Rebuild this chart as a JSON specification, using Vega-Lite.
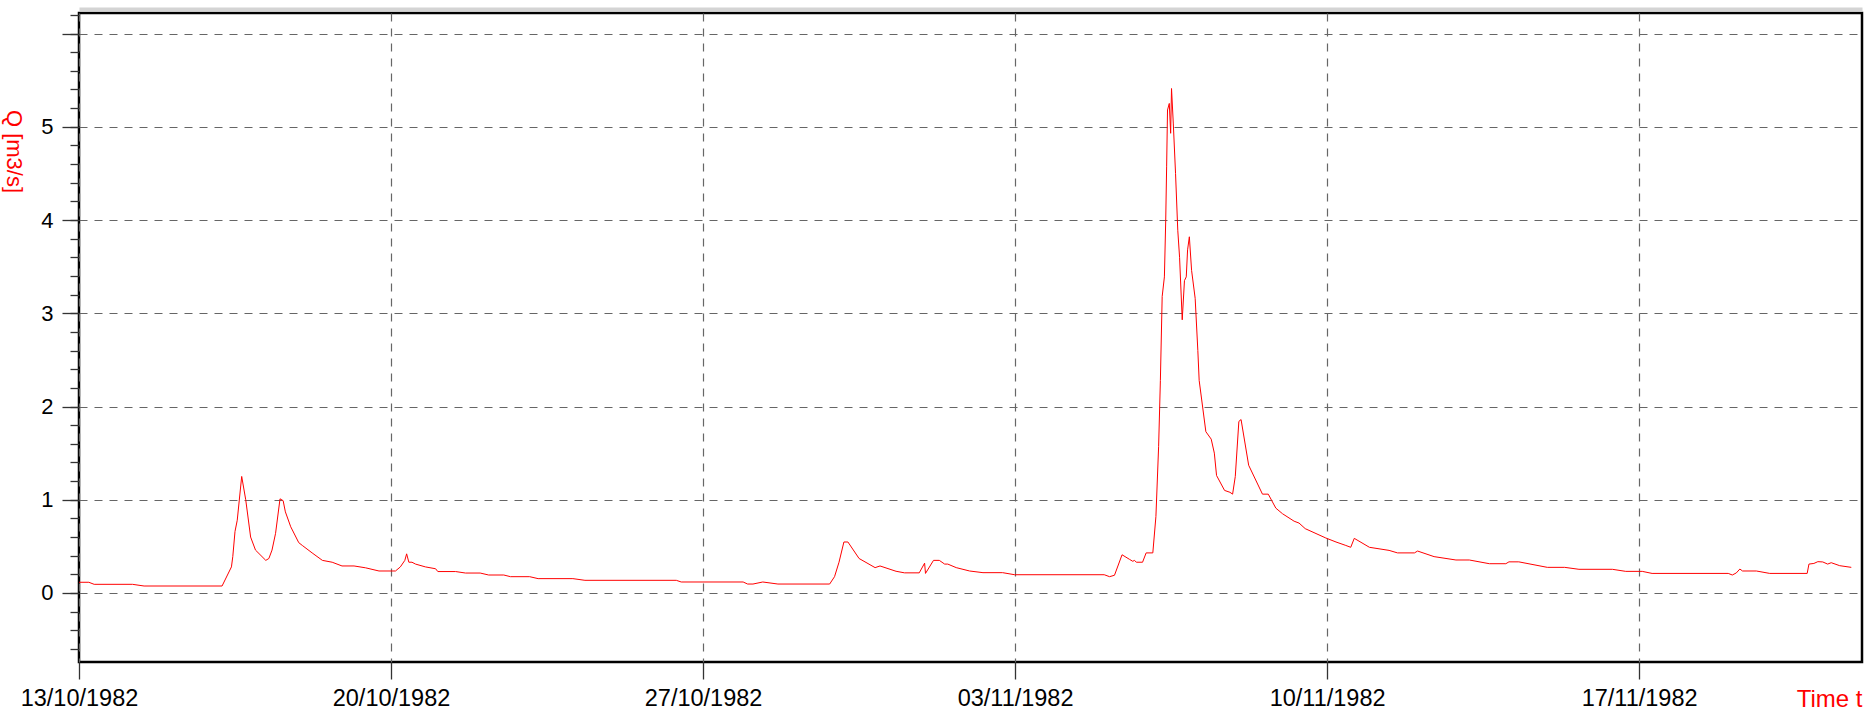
{
  "$schema": "https://vega.github.io/schema/vega-lite/v6.json",
  "width": 1783,
  "height": 649,
  "autosize": {"type": "none"},
  "padding": {"left": 79, "top": 13, "right": 3, "bottom": 50},
  "background": "white",
  "config": {
    "view": {"stroke": "#000000", "strokeWidth": 2.5},
    "font": "Liberation Sans"
  },
  "data": {
    "values": [
      {"t": "1982-10-13T00:00", "q": 0.115},
      {"t": "1982-10-13T05:17", "q": 0.115},
      {"t": "1982-10-13T08:10", "q": 0.093},
      {"t": "1982-10-14T04:48", "q": 0.093},
      {"t": "1982-10-14T11:02", "q": 0.075},
      {"t": "1982-10-16T05:02", "q": 0.075},
      {"t": "1982-10-16T10:05", "q": 0.28},
      {"t": "1982-10-16T10:48", "q": 0.39},
      {"t": "1982-10-16T12:00", "q": 0.66},
      {"t": "1982-10-16T13:12", "q": 0.78},
      {"t": "1982-10-16T15:36", "q": 1.25},
      {"t": "1982-10-16T17:46", "q": 1.0},
      {"t": "1982-10-16T20:24", "q": 0.6},
      {"t": "1982-10-16T23:02", "q": 0.46},
      {"t": "1982-10-17T04:34", "q": 0.35},
      {"t": "1982-10-17T06:14", "q": 0.37},
      {"t": "1982-10-17T07:55", "q": 0.46},
      {"t": "1982-10-17T09:50", "q": 0.64},
      {"t": "1982-10-17T12:14", "q": 1.01},
      {"t": "1982-10-17T13:55", "q": 0.99},
      {"t": "1982-10-17T15:07", "q": 0.87},
      {"t": "1982-10-17T18:00", "q": 0.71},
      {"t": "1982-10-17T22:19", "q": 0.54},
      {"t": "1982-10-18T00:14", "q": 0.51},
      {"t": "1982-10-18T05:31", "q": 0.43},
      {"t": "1982-10-18T11:02", "q": 0.35},
      {"t": "1982-10-18T16:19", "q": 0.33},
      {"t": "1982-10-18T21:36", "q": 0.29},
      {"t": "1982-10-19T04:05", "q": 0.29},
      {"t": "1982-10-19T10:19", "q": 0.27},
      {"t": "1982-10-19T17:31", "q": 0.236},
      {"t": "1982-10-20T02:24", "q": 0.236},
      {"t": "1982-10-20T05:02", "q": 0.28},
      {"t": "1982-10-20T07:26", "q": 0.35},
      {"t": "1982-10-20T08:24", "q": 0.42},
      {"t": "1982-10-20T09:36", "q": 0.33},
      {"t": "1982-10-20T11:17", "q": 0.33},
      {"t": "1982-10-20T13:12", "q": 0.31},
      {"t": "1982-10-20T18:29", "q": 0.28},
      {"t": "1982-10-21T00:00", "q": 0.26},
      {"t": "1982-10-21T01:12", "q": 0.23},
      {"t": "1982-10-21T10:48", "q": 0.23},
      {"t": "1982-10-21T16:05", "q": 0.214},
      {"t": "1982-10-22T00:00", "q": 0.214},
      {"t": "1982-10-22T04:34", "q": 0.193},
      {"t": "1982-10-22T12:43", "q": 0.193},
      {"t": "1982-10-22T16:19", "q": 0.175},
      {"t": "1982-10-23T02:38", "q": 0.175},
      {"t": "1982-10-23T07:12", "q": 0.154},
      {"t": "1982-10-24T01:55", "q": 0.154},
      {"t": "1982-10-24T08:24", "q": 0.136},
      {"t": "1982-10-26T09:36", "q": 0.136},
      {"t": "1982-10-26T12:14", "q": 0.118},
      {"t": "1982-10-27T21:36", "q": 0.118},
      {"t": "1982-10-28T00:00", "q": 0.096},
      {"t": "1982-10-28T02:53", "q": 0.096},
      {"t": "1982-10-28T08:10", "q": 0.118},
      {"t": "1982-10-28T16:19", "q": 0.096},
      {"t": "1982-10-29T20:10", "q": 0.096},
      {"t": "1982-10-29T22:48", "q": 0.175},
      {"t": "1982-10-30T01:12", "q": 0.33},
      {"t": "1982-10-30T03:50", "q": 0.547},
      {"t": "1982-10-30T06:00", "q": 0.547},
      {"t": "1982-10-30T12:00", "q": 0.37},
      {"t": "1982-10-30T20:38", "q": 0.272},
      {"t": "1982-10-30T23:17", "q": 0.29},
      {"t": "1982-10-31T07:55", "q": 0.233},
      {"t": "1982-10-31T12:29", "q": 0.216},
      {"t": "1982-10-31T20:24", "q": 0.216},
      {"t": "1982-10-31T23:17", "q": 0.32},
      {"t": "1982-10-31T23:46", "q": 0.21},
      {"t": "1982-11-01T04:05", "q": 0.35},
      {"t": "1982-11-01T07:12", "q": 0.35},
      {"t": "1982-11-01T10:05", "q": 0.31},
      {"t": "1982-11-01T11:46", "q": 0.31},
      {"t": "1982-11-01T16:19", "q": 0.272},
      {"t": "1982-11-01T23:31", "q": 0.236},
      {"t": "1982-11-02T06:43", "q": 0.218},
      {"t": "1982-11-02T17:17", "q": 0.218},
      {"t": "1982-11-02T23:46", "q": 0.196},
      {"t": "1982-11-05T00:00", "q": 0.196},
      {"t": "1982-11-05T02:53", "q": 0.175},
      {"t": "1982-11-05T05:31", "q": 0.19},
      {"t": "1982-11-05T09:36", "q": 0.41},
      {"t": "1982-11-05T13:41", "q": 0.36},
      {"t": "1982-11-05T15:22", "q": 0.34},
      {"t": "1982-11-05T16:19", "q": 0.35},
      {"t": "1982-11-05T17:17", "q": 0.33},
      {"t": "1982-11-05T20:38", "q": 0.33},
      {"t": "1982-11-05T22:34", "q": 0.43},
      {"t": "1982-11-06T02:10", "q": 0.43},
      {"t": "1982-11-06T03:50", "q": 0.82},
      {"t": "1982-11-06T05:17", "q": 1.57},
      {"t": "1982-11-06T06:14", "q": 2.28},
      {"t": "1982-11-06T07:12", "q": 3.18},
      {"t": "1982-11-06T08:24", "q": 3.39},
      {"t": "1982-11-06T09:07", "q": 4.0},
      {"t": "1982-11-06T09:36", "q": 4.57},
      {"t": "1982-11-06T10:05", "q": 5.18},
      {"t": "1982-11-06T11:02", "q": 5.25},
      {"t": "1982-11-06T11:46", "q": 4.93},
      {"t": "1982-11-06T12:14", "q": 5.41},
      {"t": "1982-11-06T13:12", "q": 5.03},
      {"t": "1982-11-06T14:24", "q": 4.5},
      {"t": "1982-11-06T15:36", "q": 3.89},
      {"t": "1982-11-06T16:34", "q": 3.6},
      {"t": "1982-11-06T18:00", "q": 2.93},
      {"t": "1982-11-06T19:12", "q": 3.35},
      {"t": "1982-11-06T20:10", "q": 3.39},
      {"t": "1982-11-06T20:53", "q": 3.68},
      {"t": "1982-11-06T21:50", "q": 3.82},
      {"t": "1982-11-06T23:02", "q": 3.46},
      {"t": "1982-11-07T00:58", "q": 3.16},
      {"t": "1982-11-07T02:24", "q": 2.6},
      {"t": "1982-11-07T03:07", "q": 2.28},
      {"t": "1982-11-07T06:43", "q": 1.73},
      {"t": "1982-11-07T09:36", "q": 1.65},
      {"t": "1982-11-07T11:17", "q": 1.5},
      {"t": "1982-11-07T12:29", "q": 1.26},
      {"t": "1982-11-07T16:48", "q": 1.1},
      {"t": "1982-11-07T19:41", "q": 1.08},
      {"t": "1982-11-07T21:07", "q": 1.06},
      {"t": "1982-11-07T22:34", "q": 1.25},
      {"t": "1982-11-08T00:29", "q": 1.84},
      {"t": "1982-11-08T01:41", "q": 1.86},
      {"t": "1982-11-08T05:46", "q": 1.37},
      {"t": "1982-11-08T13:12", "q": 1.06},
      {"t": "1982-11-08T16:19", "q": 1.06},
      {"t": "1982-11-08T20:24", "q": 0.91},
      {"t": "1982-11-09T00:00", "q": 0.85},
      {"t": "1982-11-09T06:14", "q": 0.77},
      {"t": "1982-11-09T08:53", "q": 0.75},
      {"t": "1982-11-09T12:14", "q": 0.69},
      {"t": "1982-11-09T23:17", "q": 0.59},
      {"t": "1982-11-10T04:48", "q": 0.547},
      {"t": "1982-11-10T10:05", "q": 0.51},
      {"t": "1982-11-10T12:43", "q": 0.49},
      {"t": "1982-11-10T14:38", "q": 0.586},
      {"t": "1982-11-10T22:48", "q": 0.49},
      {"t": "1982-11-11T09:22", "q": 0.457},
      {"t": "1982-11-11T13:55", "q": 0.43},
      {"t": "1982-11-11T23:02", "q": 0.43},
      {"t": "1982-11-12T00:43", "q": 0.45},
      {"t": "1982-11-12T09:36", "q": 0.39},
      {"t": "1982-11-12T21:22", "q": 0.354},
      {"t": "1982-11-13T04:34", "q": 0.354},
      {"t": "1982-11-13T15:22", "q": 0.314},
      {"t": "1982-11-14T00:14", "q": 0.314},
      {"t": "1982-11-14T01:55", "q": 0.334},
      {"t": "1982-11-14T07:12", "q": 0.334},
      {"t": "1982-11-14T22:34", "q": 0.275},
      {"t": "1982-11-15T07:55", "q": 0.275},
      {"t": "1982-11-15T15:36", "q": 0.254},
      {"t": "1982-11-16T09:36", "q": 0.254},
      {"t": "1982-11-16T16:48", "q": 0.232},
      {"t": "1982-11-17T01:41", "q": 0.232},
      {"t": "1982-11-17T06:58", "q": 0.21},
      {"t": "1982-11-19T00:00", "q": 0.21},
      {"t": "1982-11-19T02:10", "q": 0.193},
      {"t": "1982-11-19T04:19", "q": 0.215},
      {"t": "1982-11-19T06:14", "q": 0.257},
      {"t": "1982-11-19T07:41", "q": 0.236},
      {"t": "1982-11-19T15:07", "q": 0.236},
      {"t": "1982-11-19T22:19", "q": 0.21},
      {"t": "1982-11-20T18:29", "q": 0.21},
      {"t": "1982-11-20T19:26", "q": 0.31},
      {"t": "1982-11-20T22:05", "q": 0.317},
      {"t": "1982-11-21T00:14", "q": 0.336},
      {"t": "1982-11-21T02:53", "q": 0.333},
      {"t": "1982-11-21T05:31", "q": 0.31},
      {"t": "1982-11-21T07:26", "q": 0.325},
      {"t": "1982-11-21T12:00", "q": 0.293},
      {"t": "1982-11-21T18:14", "q": 0.275}
    ]
  },
  "layer": [
    {
      "mark": {"type": "line", "opacity": 0},
      "encoding": {
        "x": {
          "field": "t",
          "type": "temporal",
          "scale": {"domain": [{"year": 1982, "month": 10, "date": 13}, {"year": 1982, "month": 11, "date": 22}]},
          "axis": {"orient": "top", "offset": 4, "domain": true, "domainColor": "#d4d4d4", "domainWidth": 4, "ticks": false, "labels": false, "grid": false, "title": null}
        },
        "y": {
          "field": "q",
          "type": "quantitative",
          "scale": {"domain": [-0.74, 6.22], "nice": false, "zero": false},
          "axis": {
            "orient": "left",
            "values": [-0.6, -0.4, -0.2, 0, 0.2, 0.4, 0.6, 0.8, 1, 1.2, 1.4, 1.6, 1.8, 2, 2.2, 2.4, 2.6, 2.8, 3, 3.2, 3.4, 3.6, 3.8, 4, 4.2, 4.4, 4.6, 4.8, 5, 5.2, 5.4, 5.6, 5.8, 6, 6.2],
            "tickSize": 9,
            "tickColor": "#333333",
            "tickWidth": 1.3,
            "labels": false,
            "grid": false,
            "domain": false,
            "title": null
          }
        }
      }
    },
    {
      "mark": {"type": "line", "color": "#ff0000", "strokeWidth": 1},
      "encoding": {
        "x": {
          "field": "t",
          "type": "temporal",
          "scale": {"domain": [{"year": 1982, "month": 10, "date": 13}, {"year": 1982, "month": 11, "date": 22}]},
          "axis": {
            "orient": "bottom",
            "values": [
              {"year": 1982, "month": 10, "date": 13},
              {"year": 1982, "month": 10, "date": 20},
              {"year": 1982, "month": 10, "date": 27},
              {"year": 1982, "month": 11, "date": 3},
              {"year": 1982, "month": 11, "date": 10},
              {"year": 1982, "month": 11, "date": 17}
            ],
            "format": "%d/%m/%Y",
            "domain": false,
            "tickSize": 17,
            "tickColor": "#333333",
            "tickWidth": 1.3,
            "labelFontSize": 23.5,
            "labelColor": "#000000",
            "labelPadding": 7,
            "labelFlush": false,
            "labelOverlap": false,
            "grid": true,
            "gridColor": "#666666",
            "gridDash": [8, 7],
            "gridWidth": 1.2,
            "title": "Time t",
            "titleColor": "#ff0000",
            "titleFontSize": 24,
            "titleFontWeight": "normal",
            "titleAnchor": "end",
            "titleAlign": "right",
            "titleBaseline": "alphabetic",
            "titleX": 1783,
            "titleY": 44
          }
        },
        "y": {
          "field": "q",
          "type": "quantitative",
          "scale": {"domain": [-0.74, 6.22], "nice": false, "zero": false},
          "axis": {
            "orient": "left",
            "values": [0, 1, 2, 3, 4, 5, 6],
            "labelExpr": "datum.value == 6 ? '' : datum.label",
            "domain": false,
            "tickSize": 17,
            "tickColor": "#333333",
            "tickWidth": 1.3,
            "labelFontSize": 22,
            "labelColor": "#000000",
            "labelPadding": 9,
            "grid": true,
            "gridColor": "#666666",
            "gridDash": [8, 7],
            "gridWidth": 1.2,
            "title": "Q [m3/s]",
            "titleColor": "#ff0000",
            "titleFontSize": 22,
            "titleFontWeight": "normal",
            "titleAngle": 90,
            "titleAlign": "center",
            "titleBaseline": "alphabetic",
            "titleX": -73,
            "titleY": 138
          }
        }
      }
    }
  ],
  "resolve": {"scale": {"x": "independent", "y": "independent"}}
}
